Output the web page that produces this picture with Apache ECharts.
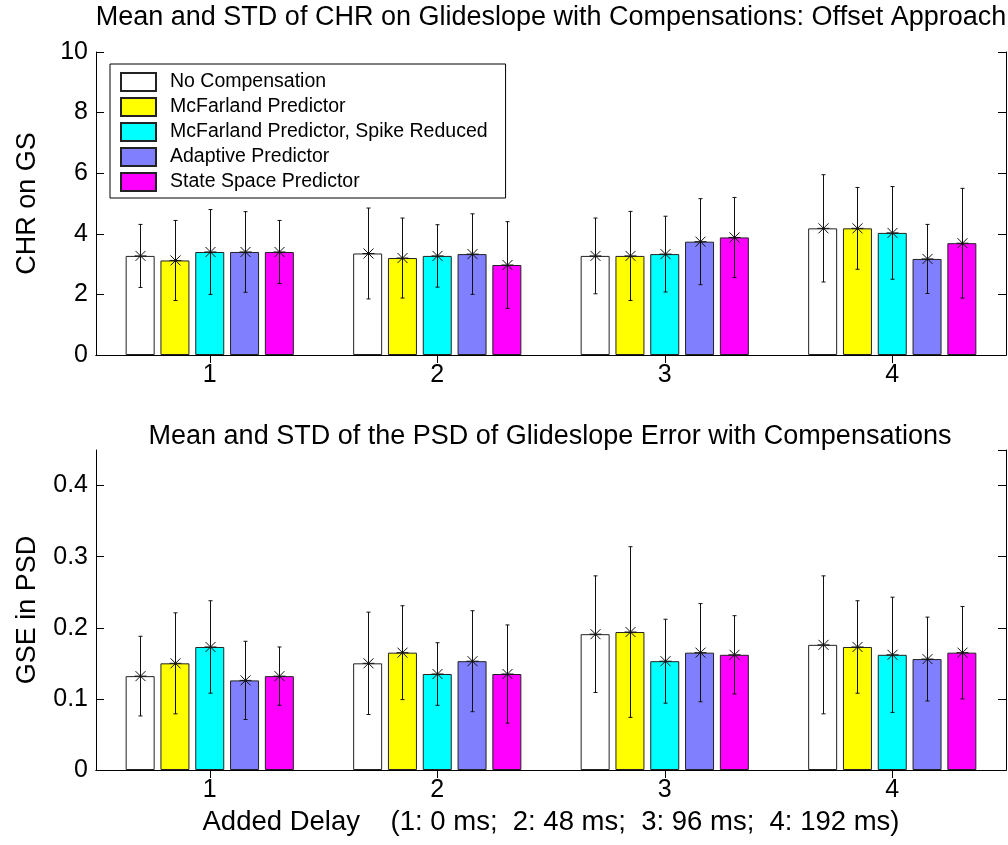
<!DOCTYPE html>
<html>
<head>
<meta charset="utf-8">
<script src="https://cdn.jsdelivr.net/npm/echarts@6/dist/echarts.min.js"></script>
<style>
  html, body { margin: 0; padding: 0; background: #fff; }
  #chart { width: 1008px; height: 845px; }
</style>
</head>
<body>
<div id="chart"></div>
<script>
// Delay levels on the x axis
const categories = ['1', '2', '3', '4'];

// Compensation methods (one bar per method in each delay group)
const methodNames = [
  'No Compensation',
  'McFarland Predictor',
  'McFarland Predictor, Spike Reduced',
  'Adaptive Predictor',
  'State Space Predictor'
];
const methodColors = ['#ffffff', '#ffff00', '#00ffff', '#8080ff', '#ff00ff'];

// CHR on glideslope: mean and standard deviation, rows = method, columns = delay
const chrMean = [
  [3.27, 3.35, 3.27, 4.18],
  [3.12, 3.20, 3.27, 4.18],
  [3.40, 3.27, 3.33, 4.03],
  [3.40, 3.33, 3.74, 3.17],
  [3.40, 2.97, 3.88, 3.69]
];
const chrStd = [
  [1.04, 1.50, 1.25, 1.77],
  [1.32, 1.32, 1.47, 1.35],
  [1.40, 1.03, 1.25, 1.53],
  [1.33, 1.33, 1.42, 1.14],
  [1.04, 1.43, 1.32, 1.81]
];

// PSD of glideslope error: mean and standard deviation
const gseMean = [
  [0.132, 0.150, 0.191, 0.176],
  [0.150, 0.165, 0.194, 0.173],
  [0.173, 0.135, 0.153, 0.162],
  [0.126, 0.153, 0.165, 0.156],
  [0.132, 0.135, 0.162, 0.165]
];
const gseStd = [
  [0.056, 0.072, 0.082, 0.097],
  [0.071, 0.066, 0.120, 0.065],
  [0.065, 0.044, 0.059, 0.081],
  [0.055, 0.071, 0.069, 0.059],
  [0.041, 0.069, 0.055, 0.065]
];

// Axis tick settings
const chrAxis = { min: 0, max: 10, interval: 2 };
const gseAxis = { min: 0, max: 0.45, interval: 0.1 };

const FONT = '"Liberation Sans", Arial, Helvetica, sans-serif';
const BAR_WIDTH = 29;
const BAR_GAP = 0.2; // gap between bars as a fraction of bar width

const chart = echarts.init(document.getElementById('chart'), null, { renderer: 'canvas' });

function errorBarSeries(name, gridIdx, methodIdx, means, stds) {
  const data = means.map((m, g) => [g, m, stds[g]]);
  return {
    name: name + ' err',
    type: 'custom',
    xAxisIndex: gridIdx * 2,
    yAxisIndex: gridIdx * 2,
    z: 5,
    silent: true,
    encode: { x: 0, y: 1 },
    data: data,
    renderItem: function (params, api) {
      const g = api.value(0);
      const mean = api.value(1);
      const sd = api.value(2);
      const step = BAR_WIDTH * (1 + BAR_GAP);
      const c = api.coord([g, mean]);
      const x = Math.round(c[0] + (methodIdx - 2) * step) + 0.5;
      const y = c[1];
      const yHi = api.coord([g, mean + sd])[1];
      const yLo = api.coord([g, mean - sd])[1];
      const st = { stroke: '#111', lineWidth: 1 };
      const cap = 2, arm = 5, bar = 6;
      return {
        type: 'group',
        children: [
          { type: 'line', shape: { x1: x, y1: yHi, x2: x, y2: yLo }, style: st },
          { type: 'line', shape: { x1: x - cap, y1: yHi, x2: x + cap, y2: yHi }, style: st },
          { type: 'line', shape: { x1: x - cap, y1: yLo, x2: x + cap, y2: yLo }, style: st },
          { type: 'line', shape: { x1: x - bar, y1: y, x2: x + bar, y2: y }, style: st },
          { type: 'line', shape: { x1: x - arm, y1: y - arm, x2: x + arm, y2: y + arm }, style: st },
          { type: 'line', shape: { x1: x - arm, y1: y + arm, x2: x + arm, y2: y - arm }, style: st },
          { type: 'line', shape: { x1: x, y1: y - bar, x2: x, y2: y + bar }, style: st }
        ]
      };
    }
  };
}

function barSeries(gridIdx, methodIdx, means) {
  return {
    name: methodNames[methodIdx],
    type: 'bar',
    xAxisIndex: gridIdx * 2,
    yAxisIndex: gridIdx * 2,
    barWidth: BAR_WIDTH,
    barGap: (BAR_GAP * 100) + '%',
    itemStyle: { color: methodColors[methodIdx], borderColor: '#222', borderWidth: 1 },
    emphasis: { disabled: true },
    data: means
  };
}

const series = [];
[[chrMean, chrStd], [gseMean, gseStd]].forEach(function (pair, gi) {
  methodNames.forEach(function (n, mi) {
    series.push(barSeries(gi, mi, pair[0][mi]));
  });
  methodNames.forEach(function (n, mi) {
    series.push(errorBarSeries(n, gi, mi, pair[0][mi], pair[1][mi]));
  });
});

const axisLineStyle = { show: true, lineStyle: { color: '#000', width: 1 } };
const tickInside = { show: true, inside: true, length: 8, lineStyle: { color: '#000' } };
const labelStyle = { color: '#000', fontFamily: FONT, fontSize: 25 };

function xAxes(gridIndex, withName) {
  const bottom = {
    type: 'category', gridIndex: gridIndex, data: categories, position: 'bottom',
    axisLine: axisLineStyle,
    axisTick: Object.assign({ alignWithLabel: true }, tickInside),
    axisLabel: Object.assign({ margin: 8 }, labelStyle),
    splitLine: { show: false }
  };
  if (withName) {
    Object.assign(bottom, {
      name: 'Added Delay    (1: 0 ms;  2: 48 ms;  3: 96 ms;  4: 192 ms)',
      nameLocation: 'middle',
      nameGap: 38,
      nameTextStyle: { color: '#000', fontFamily: FONT, fontSize: 27.5 }
    });
  }
  const top = {
    type: 'category', gridIndex: gridIndex, data: categories, position: 'top',
    axisLine: axisLineStyle,
    axisTick: Object.assign({ alignWithLabel: true }, tickInside),
    axisLabel: { show: false },
    splitLine: { show: false }
  };
  return [bottom, top];
}

function yAxes(gridIndex, scale, name) {
  const left = {
    type: 'value', gridIndex: gridIndex, position: 'left',
    min: scale.min, max: scale.max, interval: scale.interval,
    axisLine: axisLineStyle,
    axisTick: tickInside,
    axisLabel: Object.assign({ margin: 8, showMaxLabel: scale.max % scale.interval === 0 }, labelStyle),
    splitLine: { show: false },
    name: name,
    nameLocation: 'middle',
    nameGap: 55,
    nameTextStyle: { color: '#000', fontFamily: FONT, fontSize: 27 }
  };
  const right = {
    type: 'value', gridIndex: gridIndex, position: 'right',
    min: scale.min, max: scale.max, interval: scale.interval,
    axisLine: axisLineStyle,
    axisTick: tickInside,
    axisLabel: { show: false },
    splitLine: { show: false }
  };
  return [left, right];
}

const option = {
  backgroundColor: '#ffffff',
  animation: false,
  grid: [
    { left: 96, right: 2, top: 52, height: 303 },
    { left: 96, right: 2, top: 450, height: 320 }
  ],
  xAxis: xAxes(0, false).concat(xAxes(1, true)),
  yAxis: yAxes(0, chrAxis, 'CHR on GS').concat(yAxes(1, gseAxis, 'GSE in PSD')),
  legend: {
    data: methodNames,
    orient: 'vertical',
    left: 110,
    top: 64,
    padding: [8, 18, 6, 10],
    itemWidth: 35,
    itemHeight: 18,
    itemGap: 5,
    icon: 'rect',
    backgroundColor: '#fff',
    borderColor: '#000',
    borderWidth: 1,
    borderRadius: 0,
    selectedMode: false,
    textStyle: { color: '#000', fontFamily: FONT, fontSize: 19.5, padding: [0, 0, 0, 9] }
  },
  graphic: [
    {
      type: 'text', x: 551, y: 18, silent: true,
      style: {
        text: 'Mean and STD of CHR on Glideslope with Compensations: Offset Approach',
        font: '27px ' + FONT, fill: '#000', textAlign: 'center', textVerticalAlign: 'middle'
      }
    },
    {
      type: 'text', x: 550, y: 437, silent: true,
      style: {
        text: 'Mean and STD of the PSD of Glideslope Error with Compensations',
        font: '27px ' + FONT, fill: '#000', textAlign: 'center', textVerticalAlign: 'middle'
      }
    }
  ],
  series: series
};

chart.setOption(option);
</script>
</body>
</html>
